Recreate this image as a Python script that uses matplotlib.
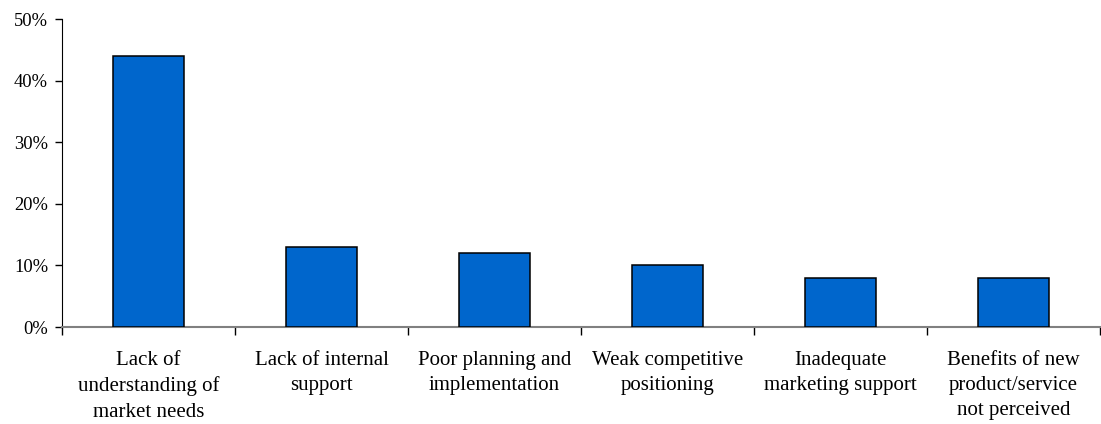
import numpy as np
import matplotlib.pyplot as plt
from matplotlib.ticker import FixedLocator, PercentFormatter

categories = [
    "Lack of\nunderstanding of\nmarket needs",
    "Lack of internal\nsupport",
    "Poor planning and\nimplementation",
    "Weak competitive\npositioning",
    "Inadequate\nmarketing support",
    "Benefits of new\nproduct/service\nnot perceived",
]
shares = [44, 13, 12, 10, 8, 8]
y_ticks = [0, 10, 20, 30, 40, 50]

plt.rcParams['font.family'] = ['Liberation Serif', 'DejaVu Serif']

fig = plt.figure(figsize=(11.01, 4.24), dpi=100)
ax = fig.add_axes([62 / 1101, 1 - 327 / 424, (1100 - 62) / 1101, (327 - 19) / 424])

x = np.arange(len(categories))
ax.bar(x, shares, width=0.41, color='#0066CC', edgecolor='black', linewidth=1.1, zorder=3)

ax.set_xlim(-0.5, len(categories) - 0.5)
ax.set_ylim(0, 50)
ax.set_yticks(y_ticks)
ax.yaxis.set_major_formatter(PercentFormatter(decimals=0))

# category labels centred under bars, tick marks on the boundaries
ax.set_xticks(x)
ax.set_xticklabels(categories, fontsize=15, linespacing=1.45, va='top')
ax.tick_params(axis='x', which='major', length=0, pad=17)
ax.xaxis.set_minor_locator(FixedLocator(np.arange(-0.5, len(categories), 1.0)))
ax.tick_params(axis='x', which='minor', length=6, width=1, color='black', direction='out')
ax.tick_params(axis='y', length=5, width=1, labelsize=13.3, pad=5)

for side in ('top', 'right'):
    ax.spines[side].set_visible(False)
ax.spines['left'].set_color('black')
ax.spines['bottom'].set_color('#808080')
ax.spines['bottom'].set_linewidth(1.5)

fig.savefig('out.png', dpi=100)
